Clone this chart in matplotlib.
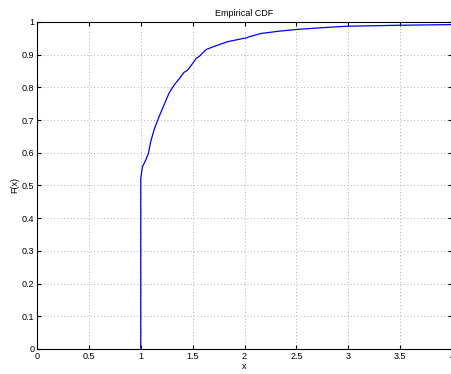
"""Empirical CDF, MATLAB-style look."""

import matplotlib
matplotlib.use("Agg")
import matplotlib.pyplot as plt

# points
x_vals = [1.0, 1.0, 1.016, 1.048, 1.074, 1.096, 1.128, 1.176, 1.224, 1.272,
          1.321, 1.375, 1.417, 1.439, 1.465, 1.513, 1.535, 1.561, 1.632,
          1.721, 1.840, 1.994, 2.016, 2.048, 2.16, 2.336, 2.497, 2.72,
          2.978, 3.49, 3.98, 4.0]
f_vals = [0.0, 0.522, 0.557, 0.578, 0.598, 0.634, 0.670, 0.710, 0.746, 0.782,
          0.807, 0.828, 0.846, 0.850, 0.858, 0.879, 0.889, 0.894, 0.916,
          0.927, 0.940, 0.950, 0.951, 0.955, 0.965, 0.972, 0.977, 0.982,
          0.987, 0.990, 0.992, 0.992]

x_ticks = [0, 0.5, 1, 1.5, 2, 2.5, 3, 3.5, 4]
x_tick_labels = ["0", "0.5", "1", "1.5", "2", "2.5", "3", "3.5", "4"]
y_ticks = [0, 0.1, 0.2, 0.3, 0.4, 0.5, 0.6, 0.7, 0.8, 0.9, 1]
y_tick_labels = ["0", "0.1", "0.2", "0.3", "0.4", "0.5", "0.6", "0.7", "0.8", "0.9", "1"]

plt.rcParams['font.family'] = ['Liberation Sans', 'DejaVu Sans']

fig = plt.figure(figsize=(4.51, 3.74), dpi=100)
ax = fig.add_axes([37 / 451, 25 / 374, 415 / 451, 327 / 374])

ax.plot(x_vals, f_vals, color=(0, 0, 1), linewidth=0.9)

ax.set_xlim(0, 4)
ax.set_ylim(0, 1)
ax.set_xticks(x_ticks)
ax.set_xticklabels(x_tick_labels)
ax.set_yticks(y_ticks)
ax.set_yticklabels(y_tick_labels)
ax.tick_params(direction='in', length=3, width=0.8, labelsize=6.5,
               top=True, right=True, pad=2)
ax.grid(True, linestyle=(0, (1, 3)), color='#999999', linewidth=0.6)
for s in ax.spines.values():
    s.set_linewidth(0.8)

ax.set_xlabel("x", fontsize=6.5, labelpad=1)
ax.set_ylabel("F(x)", fontsize=6.5, labelpad=2)
ax.set_title("Empirical CDF", fontsize=6.5, pad=4)

fig.savefig("out.png", dpi=100)
